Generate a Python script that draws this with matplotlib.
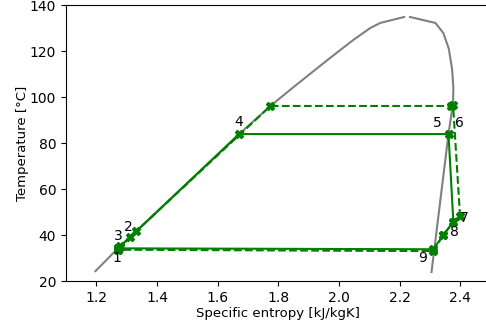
import matplotlib
matplotlib.use("Agg")
import matplotlib.pyplot as plt

# saturation dome (liquid side / vapour side)
s_liq = [1.197, 1.272, 1.671, 1.774, 1.850, 1.962, 2.047, 2.103, 2.136, 2.215]
T_liq = [24.3, 34.3, 83.9, 96.1, 104.3, 116.1, 124.8, 130.0, 132.2, 134.8]
s_vap = [2.234, 2.318, 2.344, 2.362, 2.373, 2.377, 2.376, 2.361, 2.305]
T_vap = [134.8, 132.2, 127.8, 121.0, 112.0, 104.0, 97.4, 83.9, 23.9]

# cycle A (solid) and cycle B (dashed)
s_a = [1.272, 1.279, 1.312, 1.671, 2.361, 2.377, 2.344, 2.311, 1.272]
T_a = [34.2, 35.2, 39.1, 83.9, 83.9, 45.7, 40.0, 33.8, 34.2]
s_b = [1.272, 1.279, 1.332, 1.774, 2.370, 2.376, 2.399, 2.377, 2.344, 2.311, 1.272]
T_b = [33.6, 34.6, 41.7, 96.1, 96.1, 96.6, 48.3, 45.7, 40.0, 33.0, 33.6]

labels = ['1', '2', '3', '4', '5', '6', '7', '8', '9']
lab_s = [1.269, 1.305, 1.273, 1.668, 2.324, 2.397, 2.412, 2.381, 2.275]
lab_T = [30.0, 43.5, 39.6, 89.1, 88.7, 88.7, 47.4, 41.3, 30.0]

fig = plt.figure(figsize=(4.86, 3.26), dpi=100)
ax = fig.add_axes([0.1358, 0.138, 0.8738, 0.8466])

ax.plot(s_liq, T_liq, color='gray', lw=1.5)
ax.plot(s_vap, T_vap, color='gray', lw=1.5)
ax.plot(s_a, T_a, color='green', marker='X', markersize=6, lw=1.5)
ax.plot(s_b, T_b, color='green', marker='X', markersize=6, lw=1.5, linestyle='--')

for t, x, y in zip(labels, lab_s, lab_T):
    ax.text(x, y, t, ha='center', va='center', fontsize=10)

ax.set_xlim(1.1, 2.5)
ax.set_ylim(20, 140)
ax.set_xticks([1.2, 1.4, 1.6, 1.8, 2.0, 2.2, 2.4])
ax.set_xlabel('Specific entropy [kJ/kgK]', fontsize=9.5, labelpad=1.5)
ax.set_ylabel('Temperature [°C]', fontsize=9.5, labelpad=1)

fig.savefig('out.png', dpi=100)
